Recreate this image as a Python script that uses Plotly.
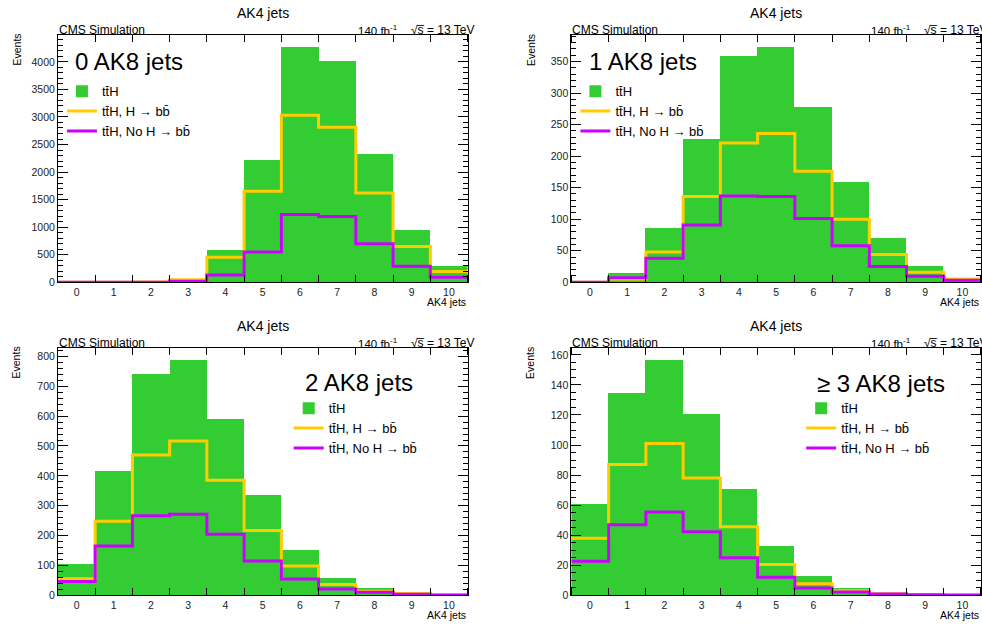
import plotly.graph_objects as go
import numpy as np

W, H = 982, 625

categories = list(range(11))
tick_labels = [str(c) for c in categories]
panel_labels = ["0 AK8 jets", "1 AK8 jets", "2 AK8 jets", "\u2265 3 AK8 jets"]
series_names = ["tt\u0304H", "tt\u0304H, H \u2192 bb\u0304", "tt\u0304H, No H \u2192 bb\u0304"]

# 0 AK8 jets
tth_0ak8 = [0, 0, 5, 68, 597, 2226, 4280, 4030, 2340, 955, 298]
hbb_0ak8 = [0, 0, 3, 46, 455, 1653, 3030, 2815, 1620, 650, 195]
nohbb_0ak8 = [0, 0, 2, 20, 133, 549, 1232, 1195, 700, 290, 92]
# 1 AK8 jet
tth_1ak8 = [0, 16, 87, 228, 360, 374, 278, 160, 70, 26, 8]
hbb_1ak8 = [0, 5, 48, 136, 221, 236, 176, 100, 44, 16, 5]
nohbb_1ak8 = [0, 7, 38, 91, 137, 136, 101, 58, 25, 9.5, 3]
# 2 AK8 jets
tth_2ak8 = [105, 418, 741, 790, 591, 336, 154, 59, 24, 10, 2]
hbb_2ak8 = [55, 248, 470, 517, 385, 217, 98, 36, 13, 6, 1]
nohbb_2ak8 = [46, 165, 266, 271, 204, 115, 54, 21, 10, 3, 1]
# >= 3 AK8 jets
tth_3ak8 = [61, 135, 157, 121, 71, 33, 13, 4.8, 1.5, 0.4, 0.1]
hbb_3ak8 = [38, 87, 101, 78, 45.6, 20.5, 7.6, 3, 1, 0.3, 0.05]
nohbb_3ak8 = [22.7, 47, 55.4, 42.3, 25, 12, 4.8, 2.2, 0.8, 0.3, 0.1]

panels = [
    (tth_0ak8, hbb_0ak8, nohbb_0ak8, 500, 100),
    (tth_1ak8, hbb_1ak8, nohbb_1ak8, 50, 10),
    (tth_2ak8, hbb_2ak8, nohbb_2ak8, 100, 20),
    (tth_3ak8, hbb_3ak8, nohbb_3ak8, 20, 5),
]

GREEN = "#33cc33"
YELLOW = "#ffcc00"
MAGENTA = "#cc00ff"
FONT = "Liberation Sans, Arial, Helvetica, sans-serif"

# pixel geometry of plot frames (left, right, top, bottom)
frames = [
    (58, 468, 35, 285),
    (572, 982, 35, 285),
    (58, 468, 351, 601),
    (572, 982, 351, 601),
]

def px(x):
    return x / W

def py(y):
    return 1 - y / H

edges = np.arange(-0.5, len(categories) + 0.5, 1.0)

fig = go.Figure()
annotations = []
layout_axes = {}
legend_pos = [(62, 77), (576, 77), (289, 397), (802, 397)]
label_pos = [(75, 62), (590, 62), (305, 386), (818, 387)]

for i, (tth, hbb, nohbb, dmaj, dmin) in enumerate(panels):
    n = i + 1
    xa = "x" if n == 1 else f"x{n}"
    ya = "y" if n == 1 else f"y{n}"
    leg = "legend" if n == 1 else f"legend{n}"
    fig.add_trace(go.Bar(
        x=categories, y=tth, width=1.0, marker=dict(color=GREEN, line=dict(width=0)),
        name=series_names[0], xaxis=xa, yaxis=ya, legend=leg, showlegend=True))
    fig.add_trace(go.Scatter(
        x=edges, y=list(hbb) + [hbb[-1]], mode="lines", line=dict(color=YELLOW, width=3, shape="hv"),
        name=series_names[1], xaxis=xa, yaxis=ya, legend=leg, showlegend=True))
    fig.add_trace(go.Scatter(
        x=edges, y=list(nohbb) + [nohbb[-1]], mode="lines", line=dict(color=MAGENTA, width=3, shape="hv"),
        name=series_names[2], xaxis=xa, yaxis=ya, legend=leg, showlegend=True))

    l, r, t, b = frames[i]
    ymax = 1.05 * max(tth)
    xkey = "xaxis" if n == 1 else f"xaxis{n}"
    ykey = "yaxis" if n == 1 else f"yaxis{n}"
    layout_axes[xkey] = dict(
        domain=[px(l), min(px(r), 1.0)], anchor=ya, range=[-0.5, 10.5],
        tickmode="array", tickvals=categories, ticktext=tick_labels, ticks="",
        showline=True, linecolor="black", linewidth=1, mirror="allticks",
        showgrid=False, zeroline=False,
        tickfont=dict(size=10.5, color="#222", family=FONT),
        minor=dict(tickmode="linear", tick0=0.5, dtick=1, ticks="inside", ticklen=7,
                   tickcolor="black", tickwidth=1, showgrid=False),
    )
    layout_axes[ykey] = dict(
        domain=[py(b), py(t)], anchor=xa, range=[0, ymax],
        tickmode="linear", tick0=0, dtick=dmaj, ticks="inside", ticklen=10, tickwidth=1,
        tickcolor="black", showline=True, linecolor="black", linewidth=1, mirror="allticks",
        showgrid=False, zeroline=False,
        tickfont=dict(size=10.5, color="#222", family=FONT),
        minor=dict(tickmode="linear", tick0=0, dtick=dmin, ticks="inside", ticklen=5,
                   tickcolor="black", tickwidth=1, showgrid=False),
    )

    annotations.append(dict(text="AK4 jets", x=px((l + r) / 2), y=py(t - 22), xref="paper", yref="paper",
                            xanchor="center", yanchor="middle", showarrow=False,
                            font=dict(size=14, family=FONT, color="black")))
    annotations.append(dict(text="CMS Simulation", x=px(l - 1), y=py(t - 5), xref="paper", yref="paper",
                            xanchor="left", yanchor="middle", showarrow=False,
                            font=dict(size=12, family=FONT, color="black")))
    annotations.append(dict(text="140 fb<sup>-1</sup>", x=px(l + 298), y=py(t - 5), xref="paper", yref="paper",
                            xanchor="left", yanchor="middle", showarrow=False,
                            font=dict(size=11.5, family=FONT, color="black")))
    annotations.append(dict(text="\u221as\u0305 = 13 TeV", x=px(l + 351), y=py(t - 5), xref="paper", yref="paper",
                            xanchor="left", yanchor="middle", showarrow=False,
                            font=dict(size=12, family=FONT, color="black")))
    annotations.append(dict(text="Events", x=px(l - 41), y=py(t + 15), xref="paper", yref="paper",
                            xanchor="center", yanchor="middle", textangle=-90, showarrow=False,
                            font=dict(size=10.5, family=FONT, color="black")))
    annotations.append(dict(text="AK4 jets", x=min(px(r), 1.0), y=py(b + 19.5), xref="paper", yref="paper",
                            xanchor="right", yanchor="middle", showarrow=False,
                            font=dict(size=10.5, family=FONT, color="black")))
    lx, ly = label_pos[i]
    annotations.append(dict(text=panel_labels[i], x=px(lx - 2), y=py(ly), xref="paper", yref="paper",
                            xanchor="left", yanchor="middle", showarrow=False,
                            font=dict(size=24, family=FONT, color="black")))

legends = {}
for i in range(4):
    key = "legend" if i == 0 else f"legend{i+1}"
    gx, gy = legend_pos[i]
    legends[key] = dict(x=px(gx), y=py(gy), xanchor="left", yanchor="top", xref="paper", yref="paper",
                        bgcolor="rgba(0,0,0,0)", borderwidth=0, tracegroupgap=0,
                        font=dict(size=13, family=FONT, color="black"), itemwidth=30)

fig.update_layout(
    width=W, height=H, margin=dict(l=0, r=0, t=0, b=0),
    paper_bgcolor="white", plot_bgcolor="white",
    bargap=0, showlegend=True, annotations=annotations,
    **layout_axes, **legends,
)

fig.write_html("out.html")
